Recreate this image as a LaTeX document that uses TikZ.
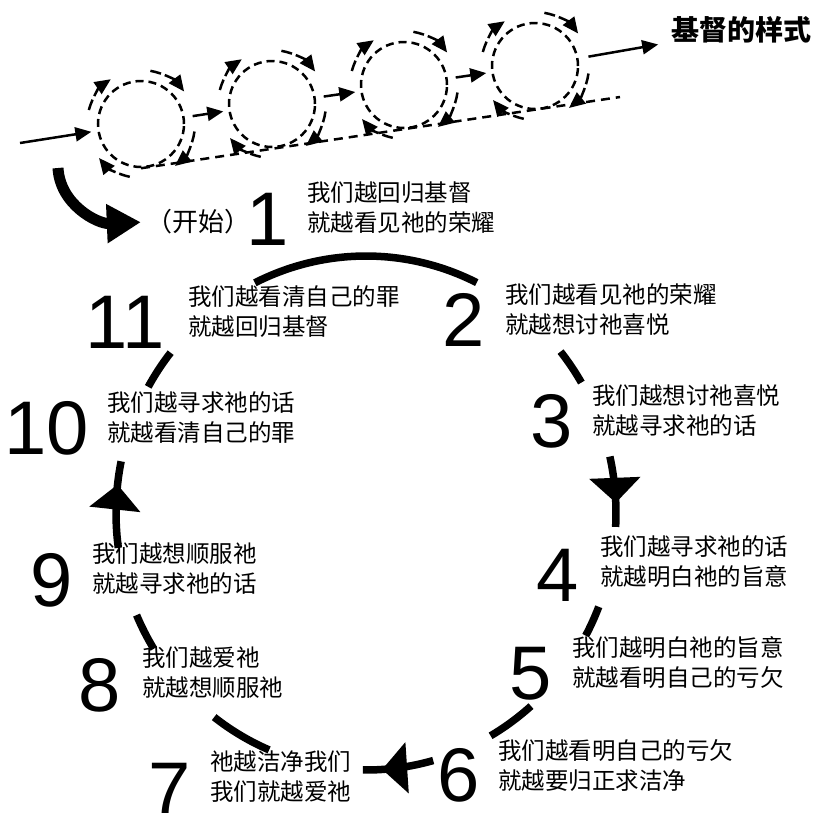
\documentclass[tikz,border=0pt]{standalone}
\usepackage{fontspec}
\newfontfamily\cjk{Noto Sans CJK SC}
\newfontfamily\digits{Liberation Sans}
\usetikzlibrary{arrows.meta,decorations.markings}

\begin{document}
\begin{tikzpicture}[x=1pt, y=-1pt,
  ringlet/.style = {draw, circle, dash pattern=on 8pt off 5pt, line width=2.5pt, minimum size=86pt, inner sep=0},
  flow/.style = {line width=2.5pt, -{Triangle[length=16pt,width=14pt]}},
  spin/.style = {flow, dash pattern=on 11pt off 4pt},
  cycleline/.style = {line width=7.5pt},
  midtip/.style = {postaction={decorate, decoration={markings, mark=at position #1 with {\arrow{Triangle[length=25pt,width=50pt]}}}}},
  num/.style = {font=\digits\fontsize{76}{76}\selectfont, inner sep=0},
  say/.style = {font=\cjk\fontsize{23.5}{30}\selectfont, align=left, anchor=west, inner sep=0}]
\useasboundingbox (0,0) rectangle (820,812);

% the road of small loops
\node[ringlet] (c1) at (141,124) {};
\node[ringlet] (c2) at (272,104) {};
\node[ringlet] (c3) at (404,85) {};
\node[ringlet] (c4) at (535,66) {};
\coordinate (entry) at (20,143);
\coordinate (roadend) at (620,97);
\node[font=\cjk\bfseries\fontsize{28}{28}\selectfont, anchor=west, inner sep=0] (goal) at (671,30) {基督的样式};

\draw[flow, shorten >=6pt] (entry) -- (c1);
\draw[flow, shorten <=8pt, shorten >=5pt] (c1) -- (c2);
\draw[flow, shorten <=8pt, shorten >=5pt] (c2) -- (c3);
\draw[flow, shorten <=8pt, shorten >=5pt] (c3) -- (c4);
\draw[flow, shorten <=10pt, shorten >=13pt] (c4) -- (goal);
\draw[line width=2.5pt, dash pattern=on 9pt off 6pt] (c1.south) -- (roadend);

\foreach \c in {c1,c2,c3,c4} {
  \draw[spin] (\c.center) ++(-165:54) arc[start angle=-165, end angle=-124, radius=54];
  \draw[spin] (\c.center) ++(-80:54) arc[start angle=-80, end angle=-37, radius=54];
  \draw[spin] (\c.center) ++(8:54) arc[start angle=8, end angle=51, radius=54];
  \draw[spin] (\c.center) ++(102:54) arc[start angle=102, end angle=141, radius=54];
}

% start
\node[font=\cjk\fontsize{26}{26}\selectfont, inner sep=0] (go) at (198,222) {（开始）};
\coordinate (startfrom) at (58,168);
\draw[line width=11pt, -{Triangle[length=34pt,width=37pt]}, shorten >=5pt]
  (startfrom) .. controls (60,205) and (98,224) .. (go.west);

% the big cycle
\coordinate (hub) at (366,513);
\foreach \a/\b in {-116.4/-63.7, -38.9/-30.5, 21.4/28.5, 48.7/60.1, 112.8/127.4, 148.1/156.6, -150.6/-141.4}
  \draw[cycleline] (hub) ++(\a:250 and 257) arc[start angle=\a, end angle=\b, x radius=250, y radius=257];
\draw[cycleline, midtip=0.66] (hub) ++(-12.7:250 and 257) arc[start angle=-12.7, end angle=3.1, x radius=250, y radius=257];
\draw[cycleline, midtip=0.73] (hub) ++(74.4:250 and 257) arc[start angle=74.4, end angle=90.7, x radius=250, y radius=257];
\draw[cycleline, midtip=0.73] (hub) ++(172.2:250 and 257) arc[start angle=172.2, end angle=191.6, x radius=250, y radius=257];

\node[num] (n1) at (268,219) {1};
\node[num] (n2) at (464,320) {2};
\node[num] (n3) at (552,421) {3};
\node[num] (n4) at (558,575) {4};
\node[num] (n5) at (531,674) {5};
\node[num] (n6) at (459,775) {6};
\node[num] (n7) at (170,789) {7};
\node[num] (n8) at (100,685) {8};
\node[num] (n9) at (52,580) {9};
\node[num] (n10) at (47,428) {10};
\node[num] (n11) at (125,322) {11};

\node[say] (t1) at (307,207.5) {我们越回归基督\\就越看见祂的荣耀};
\node[say] (t2) at (505,310) {我们越看见祂的荣耀\\就越想讨祂喜悦};
\node[say] (t3) at (592,411) {我们越想讨祂喜悦\\就越寻求祂的话};
\node[say] (t4) at (600,562) {我们越寻求祂的话\\就越明白祂的旨意};
\node[say] (t5) at (572,662.5) {我们越明白祂的旨意\\就越看明自己的亏欠};
\node[say] (t6) at (498,765.5) {我们越看明自己的亏欠\\就越要归正求洁净};
\node[say] (t7) at (210,777) {祂越洁净我们\\我们就越爱祂};
\node[say] (t8) at (142,673) {我们越爱祂\\就越想顺服祂};
\node[say] (t9) at (92,569) {我们越想顺服祂\\就越寻求祂的话};
\node[say] (t10) at (107,418) {我们越寻求祂的话\\就越看清自己的罪};
\node[say] (t11) at (188,312) {我们越看清自己的罪\\就越回归基督};
\end{tikzpicture}
\end{document}
